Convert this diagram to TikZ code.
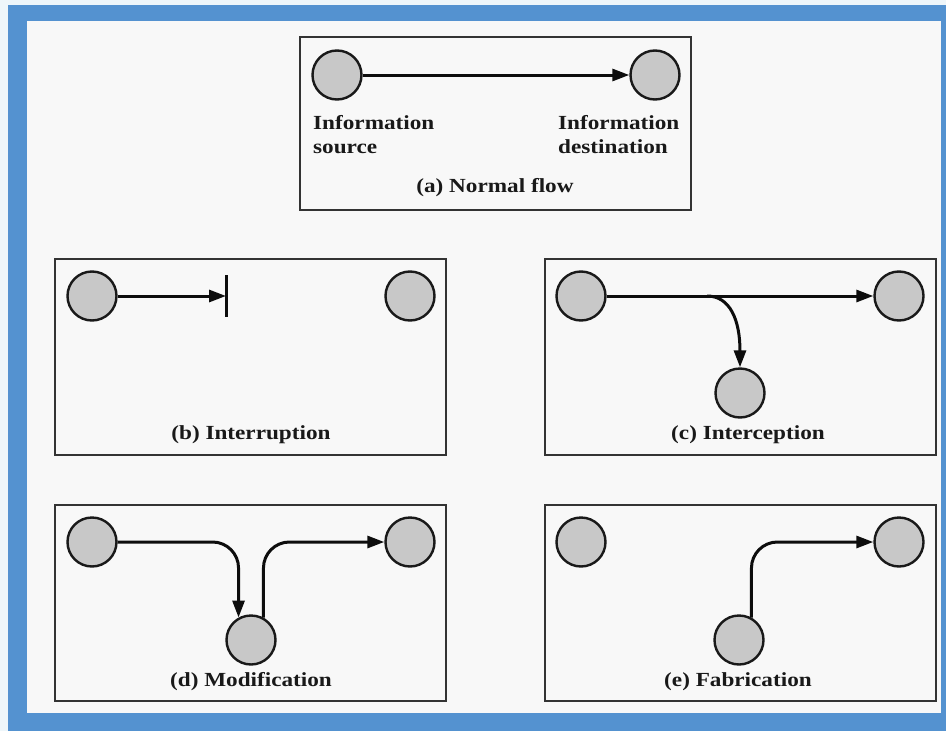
\documentclass[tikz,border=0pt]{standalone}
\usepackage{fontspec}
\setmainfont{Liberation Serif}[FakeStretch=1.16]
\usetikzlibrary{arrows.meta,calc}
\definecolor{frameblue}{RGB}{84,146,208}
\definecolor{margin}{RGB}{238,246,250}
\definecolor{paper}{RGB}{248,248,248}
\definecolor{disc}{RGB}{200,200,200}

\begin{document}
\begin{tikzpicture}[x=1pt,y=-1pt,
  station/.style={circle,draw=black!90,line width=2.4pt,fill=disc,minimum size=49pt,inner sep=0pt},
  panel/.style={draw=black!80,line width=2.4pt,fill=paper},
  flow/.style={line width=3pt,draw=black!95,-{Triangle[length=17pt,width=12pt]}},
  plain/.style={line width=3pt,draw=black!95},
  caption/.style={font=\fontsize{20}{24}\selectfont\bfseries,text=black!90,inner sep=0pt},
]
% page and blue frame
\useasboundingbox (0,0) rectangle (946,731);
\fill[margin] (0,0) rectangle (946,731);
\fill[frameblue] (8,5) rectangle (946,731);
\fill[paper] (27,21) rectangle (941,713);

% panels
\draw[panel] (300,37) rectangle (691,210);
\draw[panel] (55,259) rectangle (446,455);
\draw[panel] (545,259) rectangle (936,455);
\draw[panel] (55,505) rectangle (446,701);
\draw[panel] (545,505) rectangle (936,701);

% (a) normal flow
\node[station] (a1) at (337,75) {};
\node[station] (a2) at (655,75) {};
\draw[flow] (a1) -- (a2);
\node[caption,anchor=west,align=left] (asrc) at (313,135) {Information\\source};
\node[caption,anchor=west,align=left] (adst) at (558,135) {Information\\destination};
\node[caption] (acap) at (495,188) {(a) Normal flow};

% (b) interruption
\node[station] (b1) at (92,296) {};
\node[station] (b2) at (410,296) {};
\coordinate (bbar) at (226,296);
\coordinate (bbartop) at (226,275);
\coordinate (bbarbot) at (226,317);
\draw[flow] (b1) -- (bbar);
\draw[plain] (bbartop) -- (bbarbot);
\node[caption] (bcap) at (251,435) {(b) Interruption};

% (c) interception
\node[station] (c1) at (581,296) {};
\node[station] (c2) at (899,296) {};
\node[station] (c3) at (740,393) {};
\draw[flow] (c1) -- (c2);
\coordinate (cfork) at (707,296);
\draw[flow] (cfork) .. controls (730,296) and (740,320) .. (c3.north);
\node[caption] (ccap) at (748,435) {(c) Interception};

% (d) modification
\node[station] (d1) at (92,542) {};
\node[station] (d2) at (410,542) {};
\node[station] (d3) at (251,640) {};
\draw[flow,rounded corners=26pt] (d1.east) -| (d3.119);
\draw[flow,rounded corners=26pt] (d3.61) |- (d2.west);
\node[caption] (dcap) at (251,682) {(d) Modification};

% (e) fabrication
\node[station] (e1) at (581,542) {};
\node[station] (e2) at (899,542) {};
\node[station] (e3) at (739,640) {};
\draw[flow,rounded corners=26pt] (e3.61) |- (e2.west);
\node[caption] (ecap) at (738,682) {(e) Fabrication};
\end{tikzpicture}
\end{document}
